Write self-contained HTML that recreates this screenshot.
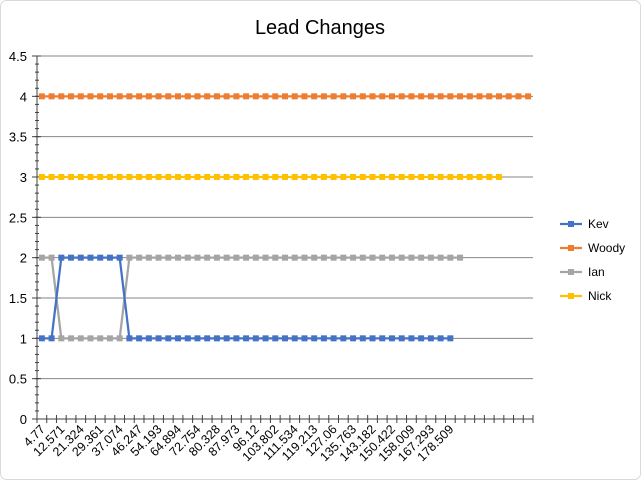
<!DOCTYPE html>
<html><head><meta charset="utf-8"><style>
html,body{margin:0;padding:0;background:#fff;}
body{width:641px;height:480px;overflow:hidden;font-family:"Liberation Sans",sans-serif;}
</style></head><body>
<svg id="chart" width="641" height="480" xmlns="http://www.w3.org/2000/svg">
<rect x="0.5" y="0.5" width="640" height="479" rx="6" fill="#fff" stroke="#d9d9d9"/>
<text x="320" y="34" text-anchor="middle" font-size="20" fill="#000">Lead Changes</text>
<g id="grid"></g><g id="axes"></g><g id="series"></g><g id="legend"></g>
</svg>
<script>
const categories = ["4.77","","12.571","","21.324","","29.361","","37.074","","46.247","","54.193","","64.894","","72.754","","80.328","","87.973","","96.12","","103.802","","111.534","","119.213","","127.06","","135.763","","143.182","","150.422","","158.009","","167.293","","178.509","","","","","","","",""];
const kevValues = [1,1,2,2,2,2,2,2,2,1,1,1,1,1,1,1,1,1,1,1,1,1,1,1,1,1,1,1,1,1,1,1,1,1,1,1,1,1,1,1,1,1,1];
const woodyValues = [4,4,4,4,4,4,4,4,4,4,4,4,4,4,4,4,4,4,4,4,4,4,4,4,4,4,4,4,4,4,4,4,4,4,4,4,4,4,4,4,4,4,4,4,4,4,4,4,4,4,4];
const ianValues = [2,2,1,1,1,1,1,1,1,2,2,2,2,2,2,2,2,2,2,2,2,2,2,2,2,2,2,2,2,2,2,2,2,2,2,2,2,2,2,2,2,2,2,2];
const nickValues = [3,3,3,3,3,3,3,3,3,3,3,3,3,3,3,3,3,3,3,3,3,3,3,3,3,3,3,3,3,3,3,3,3,3,3,3,3,3,3,3,3,3,3,3,3,3,3,3];
const yTicks = [0,0.5,1,1.5,2,2.5,3,3.5,4,4.5];
const seriesNames = ["Kev","Woody","Ian","Nick"];
const seriesColors = ["#4472c4","#ed7d31","#a5a5a5","#ffc000"];

const NS="http://www.w3.org/2000/svg";
const L=37,R=533,T=56,B=419,YMAX=4.5;
const nCat=categories.length;
const bw=(R-L)/nCat;
function xs(i){return L+bw*(i+0.5);}
function ys(v){return B-(v/YMAX)*(B-T);}
function mk(tag,attrs,parent){const e=document.createElementNS(NS,tag);for(const k in attrs)e.setAttribute(k,attrs[k]);parent.appendChild(e);return e;}
const grid=document.getElementById('grid'),axes=document.getElementById('axes'),ser=document.getElementById('series'),leg=document.getElementById('legend');

yTicks.forEach(v=>{
  if(v>0){const g=mk('line',{x1:L,x2:R,y1:ys(v),y2:ys(v),stroke:'#868686','stroke-width':1},grid);
  
  }
  const t=mk('text',{x:L-10,y:ys(v)+5,'text-anchor':'end','font-size':13,fill:'#000'},axes);
  t.textContent=v;
  
  
  mk('line',{x1:L-5,x2:L+4,y1:ys(v),y2:ys(v),stroke:'#404040','stroke-width':1},axes);
});
for(let v=0;v<=YMAX+1e-9;v+=0.1){mk('line',{x1:L-2,x2:L+2,y1:ys(v),y2:ys(v),stroke:'#404040','stroke-width':1},axes);}
const ya=mk('line',{x1:L,x2:L,y1:T,y2:B,stroke:'#404040','stroke-width':1},axes);


const xa=mk('line',{x1:L,x2:R,y1:B,y2:B,stroke:'#404040','stroke-width':1},axes);


for(let i=0;i<=nCat;i++){mk('line',{x1:L+bw*i,x2:L+bw*i,y1:B-4,y2:B+4,stroke:'#404040','stroke-width':1},axes);}
categories.forEach((c,i)=>{
  if(!c)return;
  const x=xs(i)+4,y=B+11;
  const t=mk('text',{x:x,y:y,'text-anchor':'end','font-size':12.5,fill:'#000',transform:`rotate(-45 ${x} ${y})`},axes);
  t.textContent=c;
  
  
});

const allSeries=[kevValues,woodyValues,ianValues,nickValues];
[1,3,2,0].forEach(si=>{
  const vals=allSeries[si],col=seriesColors[si];
  const g=mk('g',{},ser);
  
  
  mk('polyline',{points:vals.map((v,i)=>xs(i)+','+ys(v)).join(' '),fill:'none',stroke:col,'stroke-width':2.25},g);
  vals.forEach((v,i)=>{
    const r=mk('rect',{x:xs(i)-3,y:ys(v)-3,width:6,height:6,fill:col},g);
    
    
  });
});

seriesNames.forEach((n,i)=>{
  const y=224+24*i;
  const g=mk('g',{},leg);
  
  
  mk('line',{x1:560,x2:582,y1:y,y2:y,stroke:seriesColors[i],'stroke-width':2.25},g);
  mk('rect',{x:568,y:y-3,width:6,height:6,fill:seriesColors[i]},g);
  const t=mk('text',{x:588,y:y+4,'font-size':12,fill:'#000'},g);
  t.textContent=n;
});
</script>
</body></html>
